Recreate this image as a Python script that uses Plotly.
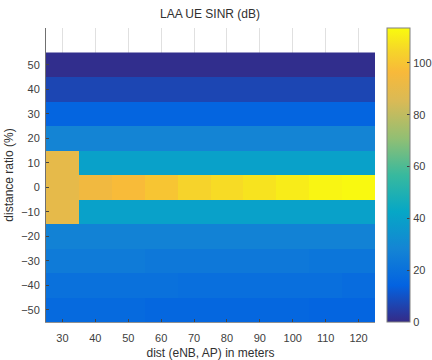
import plotly.graph_objects as go

dist = [30, 40, 50, 60, 70, 80, 90, 100, 110, 120]
ratio = [-50, -40, -30, -20, -10, 0, 10, 20, 30, 40, 50]

row_m50 = [17, 17, 17, 16, 16, 16, 16, 16, 15, 15]
row_m40 = [20, 20, 20, 20, 19, 19, 19, 19, 19, 18]
row_m30 = [24, 24, 24, 23, 23, 23, 23, 23, 22, 22]
row_m20 = [27, 27, 27, 27, 27, 27, 27, 27, 27, 27]
row_m10 = [90, 40, 40, 40, 40, 40, 40, 40, 40, 40]
row_0 = [90, 94, 97, 100, 104, 106, 108, 110, 112, 113]
row_10 = [90, 40, 40, 40, 40, 40, 40, 40, 40, 40]
row_20 = [28, 28, 28, 28, 28, 28, 28, 28, 28, 28]
row_30 = [15, 15, 15, 15, 15, 15, 15, 15, 15, 15]
row_40 = [7, 7, 7, 7, 7, 7, 7, 7, 7, 7]
row_50 = [1, 1, 1, 1, 1, 1, 1, 1, 1, 1]

z = [row_m50, row_m40, row_m30, row_m20, row_m10, row_0,
     row_10, row_20, row_30, row_40, row_50]

parula = [
    [0.0, "#352a87"],
    [0.125, "#0363e1"],
    [0.25, "#1485d4"],
    [0.375, "#06a7c6"],
    [0.5, "#38b99e"],
    [0.625, "#92bf73"],
    [0.75, "#d9ba56"],
    [0.85, "#f8b93a"],
    [0.92, "#f6d42a"],
    [1.0, "#f9fb0e"],
]

W, H = 432, 360
L, R, T, B = 46, 375, 28, 322

fig = go.Figure(go.Heatmap(
    x=dist, y=ratio, z=z,
    colorscale=parula, zmin=0, zmax=113.5,
    colorbar=dict(
        xref="container", x=387 / W, xanchor="left",
        thickness=23, thicknessmode="pixels",
        len=1, lenmode="fraction", y=0.5, yanchor="middle",
        xpad=0, ypad=0,
        outlinewidth=1, outlinecolor="#808080",
        tickvals=[0, 20, 40, 60, 80, 100],
        ticks="inside", ticklen=3, tickcolor="#404040",
        tickfont=dict(family="Liberation Sans, Arial", size=11, color="#404040"),
    ),
))

fig.update_layout(
    width=W, height=H,
    margin=dict(l=L, r=W - R, t=T, b=H - B, pad=0, autoexpand=False),
    paper_bgcolor="white", plot_bgcolor="white",
    font=dict(family="Liberation Sans, Arial", size=11, color="#404040"),
    title=dict(text="LAA UE SINR (dB)", x=210 / W, xanchor="center",
               y=1 - 14 / H, yanchor="middle",
               font=dict(size=12, color="#303030")),
    xaxis=dict(
        range=[25, 125], tickvals=dist, ticks="inside", ticklen=3,
        ticklabelstandoff=6, automargin=False,
        showgrid=True, gridcolor="#e0e0e0", gridwidth=1,
        showline=True, linecolor="#909090", linewidth=1, zeroline=False,
        title=dict(text="dist (eNB, AP) in meters", standoff=6,
                   font=dict(size=12, color="#303030")),
    ),
    yaxis=dict(
        range=[-55, 65], tickvals=ratio, ticks="inside", ticklen=3,
        ticklabelstandoff=3, automargin=False,
        showgrid=False, showline=True, linecolor="#707070", linewidth=1,
        zeroline=False,
        title=dict(text="distance ratio (%)", standoff=4,
                   font=dict(size=12, color="#303030")),
    ),
)

fig.write_html("out.html")
